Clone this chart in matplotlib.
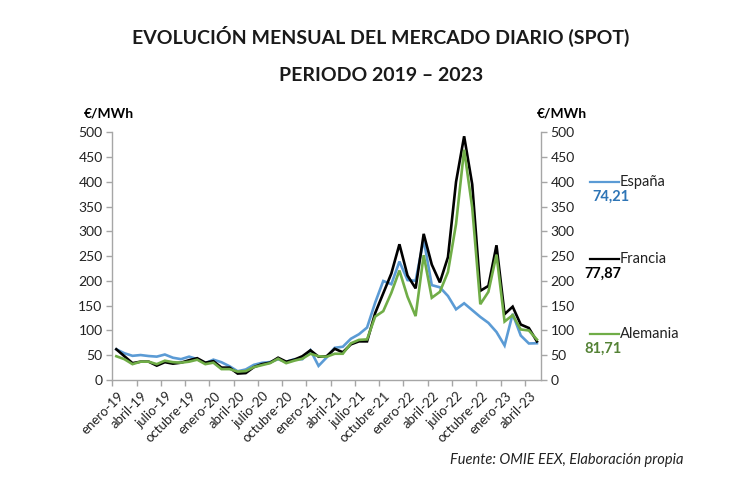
import matplotlib

matplotlib.use("Agg")
import matplotlib.pyplot as plt
import numpy as np

plt.rcParams["font.family"] = ["Lato", "DejaVu Sans"]

# Precio medio mensual (€/MWh), enero-2019 .. mayo-2023
espana = [61.99, 54.01, 48.82, 50.41, 48.39, 47.19, 51.46, 44.96, 42.11, 47.17, 42.19, 33.80,
          41.10, 35.87, 27.74, 17.65, 21.25, 30.62, 34.64, 36.20, 41.96, 36.57, 41.94, 41.97,
          60.17, 28.49, 45.44, 65.02, 67.12, 83.30, 92.42, 105.94, 156.14, 199.90, 193.43, 239.16,
          201.72, 200.22, 283.30, 191.52, 187.13, 169.58, 142.67, 154.89, 141.07, 127.32, 115.33, 96.92,
          69.66, 133.41, 89.71, 73.74, 74.21]
francia = [62, 48, 34, 37, 37, 29, 36, 33, 35, 40, 44, 35,
           38, 25, 25, 13, 14, 26, 32, 35, 45, 37, 41, 48,
           60, 47, 48, 63, 56, 72, 78, 78, 135, 175, 215, 274,
           211, 185, 295, 233, 197, 248, 400, 492, 395, 180, 190, 272,
           133, 148, 112, 105, 77.87]
alemania = [48, 42, 32, 37, 37, 32, 39, 36, 35, 37, 41, 32,
            35, 22, 22, 17, 18, 26, 30, 34, 43, 34, 39, 43,
            53, 48, 47, 53, 53, 74, 81, 82, 128, 139, 176, 221,
            168, 129, 252, 166, 178, 218, 315, 465, 348, 153, 178, 253,
            118, 131, 102, 100, 81.71]

etiquetas = ["enero-19", "abril-19", "julio-19", "octubre-19",
             "enero-20", "abril-20", "julio-20", "octubre-20",
             "enero-21", "abril-21", "julio-21", "octubre-21",
             "enero-22", "abril-22", "julio-22", "octubre-22",
             "enero-23", "abril-23"]

# nombre, datos, color línea, color valor, último valor, altura leyenda (€/MWh), x del valor (px)
series = [
    ("España", espana, "#5b9bd5", "#2e75b6", "74,21", 400, 592),
    ("Francia", francia, "#000000", "#000000", "77,87", 244, 584),
    ("Alemania", alemania, "#70ad47", "#548235", "81,71", 93, 584),
]

fig = plt.figure(figsize=(7.5, 4.87), dpi=100)
ax = fig.add_axes([0.1497, 0.2197, 0.5716, 0.5086])

n = len(espana)
x = np.arange(n) + 0.5
for nombre, datos, color, *_ in series:
    ax.plot(x, datos, color=color, lw=1.9, solid_joinstyle="miter")

ax.set_xlim(0, n)
ax.set_ylim(0, 500)
ax.set_yticks(np.arange(0, 501, 50))
ax.set_xticks(np.arange(0, n, 3))
ax.set_xticklabels([])
for k, lab in enumerate(etiquetas):
    ax.text(k * 3 + 0.6, -0.04, lab, transform=ax.get_xaxis_transform(),
            rotation=45, ha="right", va="top", rotation_mode="anchor",
            fontsize=9.5, color="#222222")

ax.spines["top"].set_visible(False)
for s in ("left", "right", "bottom"):
    ax.spines[s].set_color("#a6a6a6")
    ax.spines[s].set_linewidth(1.0)
ax.tick_params(axis="both", colors="#a6a6a6", length=4, width=1,
               labelcolor="#222222", labelsize=10)
ax.tick_params(axis="y", right=True, labelright=True, pad=3)

fig.text(0.112, 0.758, "€/MWh", fontsize=10, fontweight="bold", ha="left")
fig.text(0.716, 0.758, "€/MWh", fontsize=10, fontweight="bold", ha="left")

# leyenda a la derecha
fig.canvas.draw()
for nombre, datos, color, color_txt, valor, ypos, xval in series:
    y_fig = ax.transData.transform((0, ypos))[1]
    fig.add_artist(plt.Line2D([590, 619], [y_fig, y_fig], transform=None,
                              color=color, lw=1.6))
    fig.text(620 / 750, y_fig / 487, nombre, fontsize=10.5, va="center", ha="left",
             color="#222222")
    fig.text(xval / 750, (y_fig - 15) / 487, valor, fontsize=10.5, fontweight="bold",
             va="center", ha="left", color=color_txt)

fig.text(0.508, 0.925, "EVOLUCIÓN MENSUAL DEL MERCADO DIARIO (SPOT)",
         fontsize=14, fontweight="bold", ha="center", va="center", color="#1a1a1a")
fig.text(0.508, 0.845, "PERIODO 2019 – 2023", fontsize=14, fontweight="bold",
         ha="center", va="center", color="#1a1a1a")
fig.text(0.911, 0.055, "Fuente: OMIE EEX, Elaboración propia", fontsize=10.5,
         style="italic", ha="right", va="center", color="#222222")

fig.savefig("out.png", dpi=100)
